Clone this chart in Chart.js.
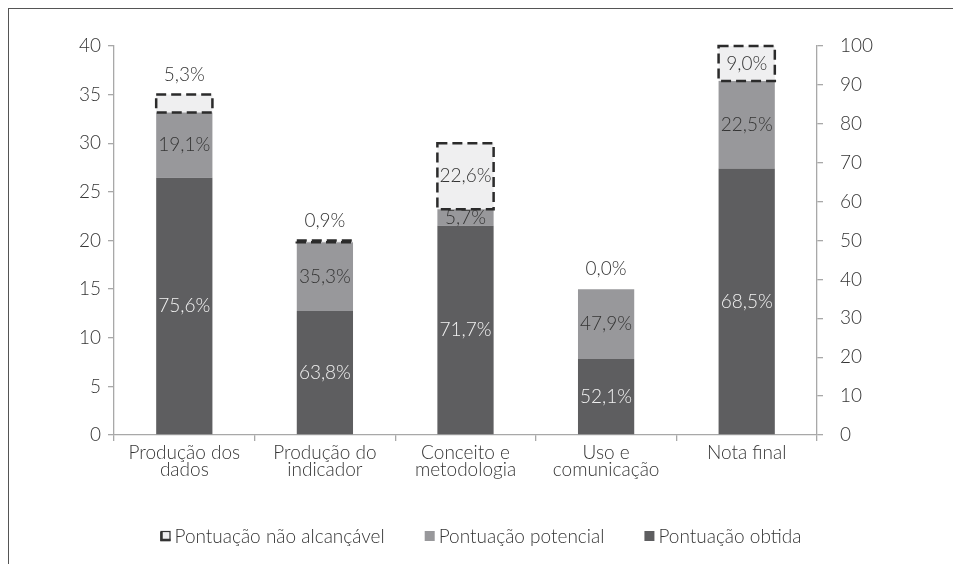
<!DOCTYPE html>
<html lang="pt">
<head>
    <meta charset="UTF-8">
    <title>Pontuação por dimensão</title>
    <script src="https://cdn.jsdelivr.net/npm/chart.js"></script>
    <style>
        body {
            margin: 0;
            background: #fff;
        }
        .frame {
            position: absolute;
            left: 8px;
            top: 8px;
            right: 0;
            bottom: 0;
            border-left: 1.5px solid #555;
            border-top: 1.5px solid #555;
        }
        #chart {
            position: absolute;
            left: 0;
            top: 0;
        }
    </style>
</head>
<body>
    <div class="frame"></div>
    <canvas id="chart" width="953" height="564"></canvas>

    <script>
        // categorias; a última ("Nota final") usa o eixo da direita (0-100)
        const categorias = [
            ["Produção dos", "dados"],
            ["Produção do", "indicador"],
            ["Conceito e", "metodologia"],
            ["Uso e", "comunicação"],
            "Nota final"
        ];
        const obtida = [26.46, 12.76, 21.51, 7.82, 68.5];
        const potencial = [6.69, 7.06, 1.71, 7.18, 22.5];
        const naoAlcancavel = [1.86, 0.18, 6.78, 0, 9.0];

        // rótulos percentuais mostrados nas barras
        const pctObtida = ["75,6%", "63,8%", "71,7%", "52,1%", "68,5%"];
        const pctPotencial = ["19,1%", "35,3%", "5,7%", "47,9%", "22,5%"];
        const pctNaoAlcancavel = ["5,3%", "0,9%", "22,6%", "0,0%", "9,0%"];

        const ticksEsq = { min: 0, max: 40, step: 5 };
        const ticksDir = { min: 0, max: 100, step: 10 };

        const corObtida = "#5e5e60";
        const corPotencial = "#98989b";
        const corNaoAlc = "#efeff0";
        const corTexto = "#353535";
        const corEixo = "#a8a8a8";
        const fonte = "Lato";
        const peso = 300;
        const tam = 19;

        const ultimo = categorias.length - 1;
        const soEsq = arr => arr.map((v, i) => i < ultimo ? v : null);
        const soDir = arr => arr.map((v, i) => i === ultimo ? v : null);

        const series = [
            { label: "Pontuação obtida", data: obtida, color: corObtida, pct: pctObtida, tipo: "obtida" },
            { label: "Pontuação potencial", data: potencial, color: corPotencial, pct: pctPotencial, tipo: "potencial" },
            { label: "Pontuação não alcançável", data: naoAlcancavel, color: corNaoAlc, pct: pctNaoAlcancavel, tipo: "nao" }
        ];

        const datasets = [];
        ["y", "y1"].forEach(eixo => {
            series.forEach(s => {
                datasets.push({
                    label: s.label,
                    data: eixo === "y" ? soEsq(s.data) : soDir(s.data),
                    backgroundColor: s.color,
                    borderWidth: 0,
                    yAxisID: eixo,
                    stack: "a",
                    pct: s.pct,
                    tipo: s.tipo,
                    categoryPercentage: 1,
                    barPercentage: 0.4
                });
            });
        });

        // contorno tracejado e rótulos de percentual
        const rotulosPlugin = {
            id: "rotulos",
            afterDatasetsDraw(chart) {
                const ctx = chart.ctx;
                ctx.save();
                chart.data.datasets.forEach((ds, d) => {
                    if (ds.tipo !== "nao") return;
                    chart.getDatasetMeta(d).data.forEach((el, i) => {
                        if (ds.data[i] === null || ds.data[i] <= 0) return;
                        const p = el.getProps(["x", "y", "base", "width"], true);
                        ctx.setLineDash([10, 5]);
                        ctx.lineWidth = 2.5;
                        ctx.strokeStyle = "#2b2b2b";
                        ctx.strokeRect(p.x - p.width / 2, p.y, p.width, p.base - p.y);
                    });
                });
                ctx.setLineDash([]);
                ctx.font = peso + " " + tam + "px " + fonte;
                ctx.textAlign = "center";
                ctx.textBaseline = "middle";
                chart.data.datasets.forEach((ds, d) => {
                    chart.getDatasetMeta(d).data.forEach((el, i) => {
                        if (ds.data[i] === null) return;
                        const p = el.getProps(["x", "y", "base"], true);
                        const h = p.base - p.y;
                        let y = (p.y + p.base) / 2;
                        if (ds.tipo === "obtida") {
                            ctx.fillStyle = "#f2f2f2";
                        } else if (ds.tipo === "potencial") {
                            ctx.fillStyle = corTexto;
                        } else {
                            ctx.fillStyle = corTexto;
                            if (h < 22) y = p.y - 20;
                        }
                        ctx.fillText(ds.pct[i], p.x, y);
                    });
                });
                ctx.restore();
            }
        };

        // legenda desenhada à mão para controlar espaçamentos
        const legendaPlugin = {
            id: "legenda",
            afterDraw(chart) {
                const ctx = chart.ctx;
                const itens = series.slice().reverse();
                ctx.save();
                ctx.font = peso + " " + tam + "px " + fonte;
                ctx.textBaseline = "middle";
                ctx.textAlign = "left";
                const box = 10, gapTxt = 4, gapItem = 40;
                const larguras = itens.map(s => box + gapTxt + ctx.measureText(s.label).width);
                const total = larguras.reduce((a, b) => a + b, 0) + gapItem * (itens.length - 1);
                let x = 481 - total / 2;
                const y = 536;
                itens.forEach((s, k) => {
                    if (s.tipo === "nao") {
                        ctx.fillStyle = corNaoAlc;
                        ctx.fillRect(x, y - 5, box, box);
                        ctx.strokeStyle = "#333";
                        ctx.lineWidth = 1.2;
                        ctx.strokeRect(x + 0.5, y - 4.5, box - 1, box - 1);
                        ctx.lineWidth = 2.5;
                        ctx.beginPath();
                        ctx.moveTo(x + 1, y - 4);
                        ctx.lineTo(x + 1, y + 4);
                        ctx.lineTo(x + box, y + 4);
                        ctx.stroke();
                    } else {
                        ctx.fillStyle = s.color;
                        ctx.fillRect(x, y - 5, box, box);
                    }
                    ctx.fillStyle = corTexto;
                    ctx.fillText(s.label, x + box + gapTxt, y + 1);
                    x += larguras[k] + gapItem;
                });
                ctx.restore();
            }
        };

        const fonteEixo = { family: fonte, size: tam, weight: peso };

        new Chart(document.getElementById("chart"), {
            type: "bar",
            data: { labels: categorias, datasets: datasets },
            options: {
                responsive: false,
                animation: false,
                layout: { padding: { top: 46, left: 0, right: 0, bottom: 0 } },
                plugins: {
                    legend: { display: false },
                    tooltip: { enabled: false }
                },
                scales: {
                    x: {
                        stacked: true,
                        border: { color: corEixo, width: 1.3 },
                        grid: { drawOnChartArea: false, color: corEixo, tickLength: 6, lineWidth: 1.3 },
                        ticks: {
                            color: corTexto,
                            padding: 4,
                            maxRotation: 0,
                            autoSkip: false,
                            font: { family: fonte, size: tam, weight: peso, lineHeight: 0.86 }
                        },
                        afterFit(scale) { scale.height = 129; }
                    },
                    y: {
                        stacked: true,
                        position: "left",
                        min: ticksEsq.min,
                        max: ticksEsq.max,
                        border: { color: corEixo, width: 1.3 },
                        grid: { drawOnChartArea: false, color: corEixo, tickLength: 6, lineWidth: 1.3 },
                        ticks: {
                            stepSize: ticksEsq.step,
                            color: corTexto,
                            padding: 7,
                            font: fonteEixo
                        },
                        afterFit(scale) { scale.width = 114; }
                    },
                    y1: {
                        stacked: true,
                        position: "right",
                        min: ticksDir.min,
                        max: ticksDir.max,
                        border: { color: corEixo, width: 1.3 },
                        grid: { drawOnChartArea: false, color: corEixo, tickLength: 6, lineWidth: 1.3 },
                        ticks: {
                            stepSize: ticksDir.step,
                            color: corTexto,
                            padding: 17,
                            font: fonteEixo
                        },
                        afterFit(scale) { scale.width = 136; }
                    }
                }
            },
            plugins: [rotulosPlugin, legendaPlugin]
        });
    </script>
</body>
</html>
